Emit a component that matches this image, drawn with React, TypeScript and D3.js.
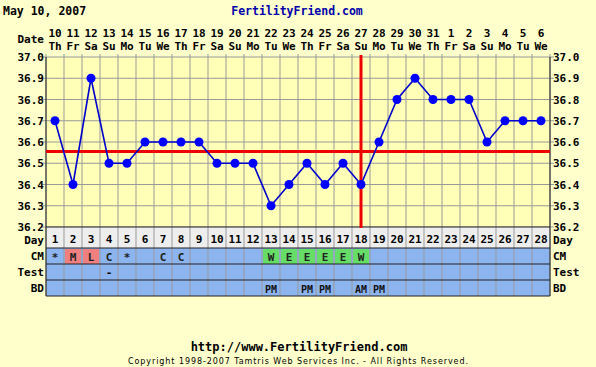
import { scaleBand, scaleLinear, line, range } from 'd3'

const days = range(1, 29)
const dates = ['10', '11', '12', '13', '14', '15', '16', '17', '18', '19', '20', '21', '22', '23', '24', '25', '26', '27', '28', '29', '30', '31', '1', '2', '3', '4', '5', '6']
const weekdays = ['Th', 'Fr', 'Sa', 'Su', 'Mo', 'Tu', 'We']
const temps = [36.7, 36.4, 36.9, 36.5, 36.5, 36.6, 36.6, 36.6, 36.6, 36.5, 36.5, 36.5, 36.3, 36.4, 36.5, 36.4, 36.5, 36.4, 36.6, 36.8, 36.9, 36.8, 36.8, 36.8, 36.6, 36.7, 36.7, 36.7]
const tempTicks = [37.0, 36.9, 36.8, 36.7, 36.6, 36.5, 36.4, 36.3, 36.2]
const coverline = 36.555
const ovulationDay = 18

// cervical mucus: [day, code, kind]
const cmEntries: [number, string, string][] = [
  [1, '*', ''], [2, 'M', 'red'], [3, 'L', 'red'], [4, 'C', ''], [5, '*', ''],
  [7, 'C', ''], [8, 'C', ''], [13, 'W', 'green'], [14, 'E', 'green'],
  [15, 'E', 'green'], [16, 'E', 'green'], [17, 'E', 'green'], [18, 'W', 'green'],
]
const testEntries: [number, string][] = [[4, '-']]
const bdEntries: [number, string][] = [[13, 'PM'], [15, 'PM'], [16, 'PM'], [18, 'AM'], [19, 'PM']]

const W = 596
const H = 367
const PLOT = { left: 46, right: 550, top: 57, bottom: 227 }
const ROWS = { day: [227, 248], cm: [248, 264], test: [264, 280], bd: [280, 296] }
const FONT = '"DejaVu Sans Mono", monospace'

export default function App() {
  const x = scaleBand<number>().domain(days).range([PLOT.left, PLOT.right])
  const y = scaleLinear().domain([36.2, 37.0]).range([PLOT.bottom, PLOT.top])
  const cx = (d: number) => (x(d) ?? 0) + x.bandwidth() / 2
  const path = line<number>()
    .x((_, i) => cx(days[i]))
    .y((t) => y(t))(temps)

  const rowText = (rowY: number[], label: string) => (
    <>
      <text x={44} y={rowY[1] - 4} textAnchor="end" fontSize={11} fontWeight="bold">{label}</text>
      <text x={553} y={rowY[1] - 4} fontSize={11} fontWeight="bold">{label}</text>
    </>
  )

  return (
    <svg width={W} height={H} style={{ position: 'absolute', left: 0, top: 0 }} fontFamily={FONT}>
      <rect width={W} height={H} fill="#ffffcc" />
      <text x={3} y={15} fontSize={11.5} fontWeight="bold" fill="#000">May 10, 2007</text>
      <text x={297} y={15} fontSize={11.5} fontWeight="bold" fill="#0000aa" textAnchor="middle">FertilityFriend.com</text>

      <text x={44} y={43} textAnchor="end" fontSize={11} fontWeight="bold">Date</text>
      {days.map((d, i) => (
        <g key={`date-${d}`}>
          <text x={cx(d)} y={37} textAnchor="middle" fontSize={11} fontWeight="bold">{dates[i]}</text>
          <text x={cx(d)} y={50} textAnchor="middle" fontSize={11} fontWeight="bold">{weekdays[i % 7]}</text>
        </g>
      ))}

      <rect x={PLOT.left} y={PLOT.top} width={PLOT.right - PLOT.left} height={PLOT.bottom - PLOT.top} fill="#ffffb8" />
      {tempTicks.map((t) => (
        <g key={`t-${t}`}>
          <line x1={PLOT.left - 4} x2={PLOT.right + 4} y1={y(t)} y2={y(t)} stroke="#999" strokeWidth={1} />
          <text x={44} y={y(t) + 4} textAnchor="end" fontSize={11} fontWeight="bold">{t.toFixed(1)}</text>
          <text x={553} y={y(t) + 4} fontSize={11} fontWeight="bold">{t.toFixed(1)}</text>
        </g>
      ))}
      {days.concat([29]).map((d) => {
        const gx = d === 29 ? PLOT.right : x(d) ?? 0
        return <line key={`v-${d}`} x1={gx} x2={gx} y1={PLOT.top - 3} y2={PLOT.bottom} stroke="#999" strokeWidth={1} />
      })}

      {/* table rows */}
      <rect x={PLOT.left} y={ROWS.day[0]} width={PLOT.right - PLOT.left} height={ROWS.day[1] - ROWS.day[0]} fill="#eeeeee" />
      <rect x={PLOT.left} y={ROWS.cm[0]} width={PLOT.right - PLOT.left} height={ROWS.bd[1] - ROWS.cm[0]} fill="#8cb4ee" />
      {cmEntries.filter((e) => e[2]).map(([d, , kind]) => (
        <rect key={`cmbg-${d}`} x={(x(d) ?? 0) + 1} y={ROWS.cm[0] + 1} width={x.bandwidth() - 2} height={ROWS.cm[1] - ROWS.cm[0] - 1}
          fill={kind === 'red' ? '#f08080' : '#66dd66'} />
      ))}
      {days.concat([29]).map((d) => {
        const gx = d === 29 ? PLOT.right : x(d) ?? 0
        return <line key={`tv-${d}`} x1={gx} x2={gx} y1={ROWS.day[0]} y2={ROWS.bd[1]} stroke="#999" strokeWidth={1} />
      })}
      {[ROWS.day[0], ROWS.cm[0], ROWS.test[0], ROWS.bd[0], ROWS.bd[1]].map((ry) => (
        <line key={`h-${ry}`} x1={PLOT.left} x2={PLOT.right} y1={ry} y2={ry} stroke="#222" strokeWidth={1} />
      ))}
      <line x1={PLOT.left} x2={PLOT.left} y1={PLOT.top} y2={ROWS.bd[1]} stroke="#222" />
      <line x1={PLOT.right} x2={PLOT.right} y1={PLOT.top} y2={ROWS.bd[1]} stroke="#222" />

      {rowText(ROWS.day, 'Day')}
      {rowText(ROWS.cm, 'CM')}
      {rowText(ROWS.test, 'Test')}
      {rowText(ROWS.bd, 'BD')}
      {days.map((d) => (
        <text key={`d-${d}`} x={cx(d)} y={ROWS.day[1] - 5} textAnchor="middle" fontSize={11} fontWeight="bold">{d}</text>
      ))}
      {cmEntries.map(([d, code]) => (
        <text key={`cm-${d}`} x={cx(d)} y={ROWS.cm[1] - 3} textAnchor="middle" fontSize={11} fontWeight="bold" fill="#222">{code}</text>
      ))}
      {testEntries.map(([d, code]) => (
        <text key={`te-${d}`} x={cx(d)} y={ROWS.test[1] - 4} textAnchor="middle" fontSize={11} fontWeight="bold">{code}</text>
      ))}
      {bdEntries.map(([d, code]) => (
        <text key={`bd-${d}`} x={cx(d)} y={ROWS.bd[1] - 3} textAnchor="middle" fontSize={10} fontWeight="bold" fill="#111">{code}</text>
      ))}

      {/* coverline and ovulation line */}
      <line x1={PLOT.left} x2={PLOT.right} y1={y(coverline)} y2={y(coverline)} stroke="#ee0000" strokeWidth={3} />
      <line x1={cx(ovulationDay)} x2={cx(ovulationDay)} y1={PLOT.top - 2} y2={PLOT.bottom + 1} stroke="#ee0000" strokeWidth={3} />

      <path d={path ?? ''} fill="none" stroke="#0000cc" strokeWidth={1.6} />
      {temps.map((t, i) => (
        <circle key={`p-${i}`} cx={cx(days[i])} cy={y(t)} r={4.5} fill="#0000ff" />
      ))}

      <text x={299} y={351} textAnchor="middle" fontSize={12} fontWeight="bold">http://www.FertilityFriend.com</text>
      <text x={128} y={364} fontSize={8} textLength={340} lengthAdjust="spacing" fontFamily='"DejaVu Sans", sans-serif'>Copyright 1998-2007 Tamtris Web Services Inc. - All Rights Reserved.</text>
    </svg>
  )
}
